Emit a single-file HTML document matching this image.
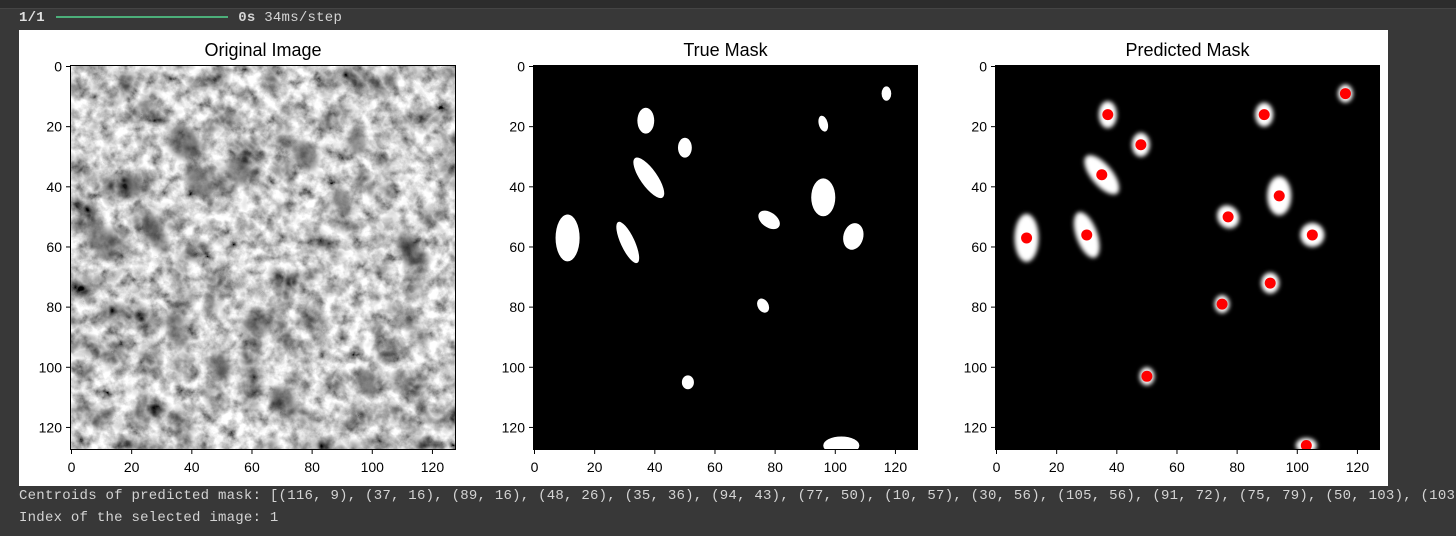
<!DOCTYPE html>
<html><head><meta charset="utf-8">
<style>
html,body{margin:0;padding:0;background:#383838;width:1456px;height:536px;overflow:hidden}
#top{position:absolute;left:0;top:0;width:1456px;height:8px;background:#2c2c2c;border-bottom:1px solid #444}
.mono{font-family:"Liberation Mono",monospace;font-size:14px;letter-spacing:0.25px;color:#d4d4d4;position:absolute;white-space:pre}
</style></head><body>
<div id="top"></div>
<div class="mono" style="left:19px;top:10px"><b style="color:#e0e0e0">1/1</b> <span style="display:inline-block;width:172px;height:2px;background:#4caf7a;vertical-align:middle;margin:0 2px"></span> <b>0s</b> 34ms/step</div>
<svg id="fig" width="1456" height="536" style="position:absolute;left:0;top:0"></svg>
<div class="mono" style="left:19px;top:488px">Centroids of predicted mask: [(116, 9), (37, 16), (89, 16), (48, 26), (35, 36), (94, 43), (77, 50), (10, 57), (30, 56), (105, 56), (91, 72), (75, 79), (50, 103), (103, 126)]</div>
<div class="mono" style="left:19px;top:510px">Index of the selected image: 1</div>
<script>
// Data
const ticks=[0,20,40,60,80,100,120];
const centX=[116,37,89,48,35,94,77,10,30,105,91,75,50,103];
const centY=[9,16,16,26,36,43,50,57,56,56,72,79,103,126];
const predRx=[2.5,3,3,3,3.5,4,3.5,4,3.5,4,3,2.5,2.5,3.5];
const predRy=[3,4.5,4,4,8,6.5,4,8,8,4,3.5,3,3,2.5];
const predAng=[0,0,0,0,-40,0,-35,0,-20,0,0,0,0,0];
const trueX=[117,37,50,96,38,96,78,11,31,106,76,51,102];
const trueY=[9,18,27,19,37,43.5,51,57,58.5,56.5,79.5,105,126];
const trueRx=[1.6,2.8,2.3,1.5,2.8,4,4,4,2.3,3.3,1.8,2,6];
const trueRy=[2.4,4.3,3.3,2.7,8,6.3,2.5,7.8,7.5,4.5,2.5,2.3,3];
const trueAng=[0,0,0,-15,-35,0,35,0,-25,15,-30,0,0];
const orgX=[10,28,37,42,55,78,95,90,62,20,50,98,112,70,35];
const orgY=[58,55,25,38,35,30,25,45,85,40,100,105,60,110,88];
const orgRx=[4,3,5,4,3,4,3,3,4,3,3,3,3,4,3];
const orgRy=[7,8,6,6,5,5,4,5,5,4,4,5,6,4,6];

const NS="http://www.w3.org/2000/svg";
const svg=document.getElementById('fig');
function mk(t,a,p){const e=document.createElementNS(NS,t);for(const k in a)e.setAttribute(k,a[k]);(p||svg).appendChild(e);return e;}
const defs=mk('defs',{});
defs.innerHTML=
'<filter id="em" x="0" y="0" width="100%" height="100%"><feTurbulence type="fractalNoise" baseFrequency="0.08" numOctaves="4" seed="7"/><feColorMatrix type="matrix" values="1.8 0 0 0 -0.18  1.8 0 0 0 -0.18  1.8 0 0 0 -0.18  0 0 0 0 1"/></filter>'+
'<filter id="em2" x="0" y="0" width="100%" height="100%"><feTurbulence type="turbulence" baseFrequency="0.03" numOctaves="3" seed="3"/><feColorMatrix type="matrix" values="-1.6 0 0 0 1.25  -1.6 0 0 0 1.25  -1.6 0 0 0 1.25  0 0 0 0 1"/></filter>'+
'<filter id="blur" x="-60%" y="-60%" width="220%" height="220%"><feGaussianBlur stdDeviation="2.2"/></filter>'+
'<filter id="blur2" x="-60%" y="-60%" width="220%" height="220%"><feGaussianBlur stdDeviation="3"/></filter>'+
'<clipPath id="c1"><rect x="70" y="65" width="386" height="385"/></clipPath>'+
'<clipPath id="c2"><rect x="533" y="65" width="385" height="385"/></clipPath>'+
'<clipPath id="c3"><rect x="995" y="65" width="385" height="385"/></clipPath>';
mk('rect',{x:19,y:30,width:1369,height:456,fill:'#fff',});

const panels=[{x0:70,t:'Original Image',n:'original-image'},{x0:533,t:'True Mask',n:'true-mask'},{x0:995,t:'Predicted Mask',n:'predicted-mask'}];
const Y0=65,S=385/128;
panels.forEach((p,i)=>{
  const g=mk('g',{});
  
  
  const sx=v=>p.x0+(v+0.5)*S, sy=v=>Y0+(v+0.5)*S;
  const img=mk('g',{'clip-path':'url(#c'+(i+1)+')'},g);
  if(i===0){
    mk('rect',{x:p.x0,y:Y0,width:386,height:385,filter:'url(#em)'},img);
    mk('rect',{x:p.x0,y:Y0,width:386,height:385,filter:'url(#em2)',style:'mix-blend-mode:multiply'},img);
    orgX.forEach((v,k)=>{
      const e=mk('ellipse',{cx:sx(v),cy:sy(orgY[k]),rx:orgRx[k]*S,ry:orgRy[k]*S,fill:'#333',opacity:0.5,filter:'url(#blur2)',transform:`rotate(-25 ${sx(v)} ${sy(orgY[k])})`},img);
      
      
    });
  } else {
    mk('rect',{x:p.x0,y:Y0,width:385,height:385,fill:'#000'},img);
  }
  if(i===1){
    trueX.forEach((v,k)=>{
      const e=mk('ellipse',{cx:sx(v),cy:sy(trueY[k]),rx:trueRx[k]*S,ry:trueRy[k]*S,fill:'#fff',transform:`rotate(${trueAng[k]} ${sx(v)} ${sy(trueY[k])})`},img);
      
      
    });
  }
  if(i===2){
    centX.forEach((v,k)=>{
      const e=mk('ellipse',{cx:sx(v),cy:sy(centY[k]),rx:predRx[k]*S,ry:predRy[k]*S,fill:'#fff',filter:'url(#blur)',transform:`rotate(${predAng[k]} ${sx(v)} ${sy(centY[k])})`},img);
      
      
    });
    centX.forEach((v,k)=>{
      const c=mk('circle',{cx:sx(v),cy:sy(centY[k]),r:5.5,fill:'#ff0000'},img);
      
      
    });
  }
  const w=i===0?386:385;
  const fr=mk('rect',{x:p.x0+0.5,y:Y0+0.5,width:w-1,height:384,fill:'none',stroke:'#000','stroke-width':1},g);
  
  
  const t=mk('text',{x:p.x0+w/2,y:56,'text-anchor':'middle','font-family':'Liberation Sans, sans-serif','font-size':18,fill:'#000'},g);
  t.textContent=p.t;
  
  
  ticks.forEach(v=>{
    mk('line',{x1:sx(v),x2:sx(v),y1:450,y2:454,stroke:'#000'},g);
    const tx=mk('text',{x:sx(v),y:472,'text-anchor':'middle','font-family':'Liberation Sans, sans-serif','font-size':14,fill:'#000'},g);
    tx.textContent=v;
    
    
    mk('line',{x1:p.x0-4,x2:p.x0,y1:sy(v),y2:sy(v),stroke:'#000'},g);
    const ty=mk('text',{x:p.x0-8,y:sy(v)+5,'text-anchor':'end','font-family':'Liberation Sans, sans-serif','font-size':14,fill:'#000'},g);
    ty.textContent=v;
    
    
  });
});
</script>
</body></html>
